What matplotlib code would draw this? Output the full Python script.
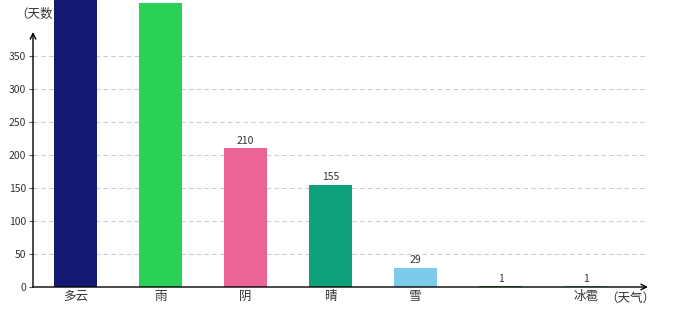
import matplotlib
matplotlib.use("Agg")
import matplotlib.pyplot as plt

plt.rcParams['font.family'] = ['Noto Sans CJK SC', 'DejaVu Sans']

# 天气类型与天数
weather = ['多云', '雨', '阴', '晴', '雪', '', '冰雹']
days = [480, 430, 210, 155, 29, 1, 1]
colors = ['#141a73', '#2ad156', '#ea6496', '#0fa07c', '#7ccbeb', '#3cb043', '#7ccf9a']
yticks = [0, 50, 100, 150, 200, 250, 300, 350]

fig = plt.figure(figsize=(6.8, 3.2), dpi=100)
ax = fig.add_axes([33/680, 33/320, 615/680, 287/320])

ymax = 287 / (231 / 350)
x = list(range(len(weather)))
bars = ax.bar(x, days, width=0.5, color=colors, zorder=3)
for xi, v in zip(x, days):
    # 超出画面的柱子标签看不到
    if v + 20 < ymax:
        ax.text(xi, v + 4, str(v), ha='center', va='bottom', fontsize=7.5,
                color='#333333', zorder=4)

ax.set_ylim(0, ymax)
ax.set_xlim(-0.5, 6.5 + 20/85)

ax.set_yticks(yticks)
ax.set_yticklabels([str(t) for t in yticks], fontsize=7.5, color='#333333')
ax.set_xticks(x)
ax.set_xticklabels(weather, fontsize=9, color='#333333')
ax.tick_params(axis='y', length=3, width=0.8, color='#555555', pad=2)
ax.tick_params(axis='x', length=0, pad=2)

for t in yticks[1:]:
    ax.axhline(t, color='#cccccc', lw=0.8, ls=(0, (4, 3)), zorder=1)

for s in ax.spines.values():
    s.set_visible(False)

# 坐标轴箭头
ytop = (287 - 32) / (231 / 350)
ax.annotate('', xy=(-0.5, ytop), xytext=(-0.5, 0),
            arrowprops=dict(arrowstyle='->', color='black', lw=1, shrinkA=0, shrinkB=0),
            annotation_clip=False, zorder=5)
ax.annotate('', xy=(6.5 + 20/85, 0), xytext=(-0.5, 0),
            arrowprops=dict(arrowstyle='->', color='black', lw=1, shrinkA=0, shrinkB=0),
            annotation_clip=False, zorder=5)

ax.text(-0.5 - 18/85, ymax - 14 * 350 / 231, '（天数', ha='left', va='center',
        fontsize=9, color='#333333', zorder=1, clip_on=False)
fig.text(630/680, 1 - 298/320, '（天气）', ha='center', va='center',
         fontsize=9, color='#333333')

fig.savefig('out.png', dpi=100)
plt.close('all')
